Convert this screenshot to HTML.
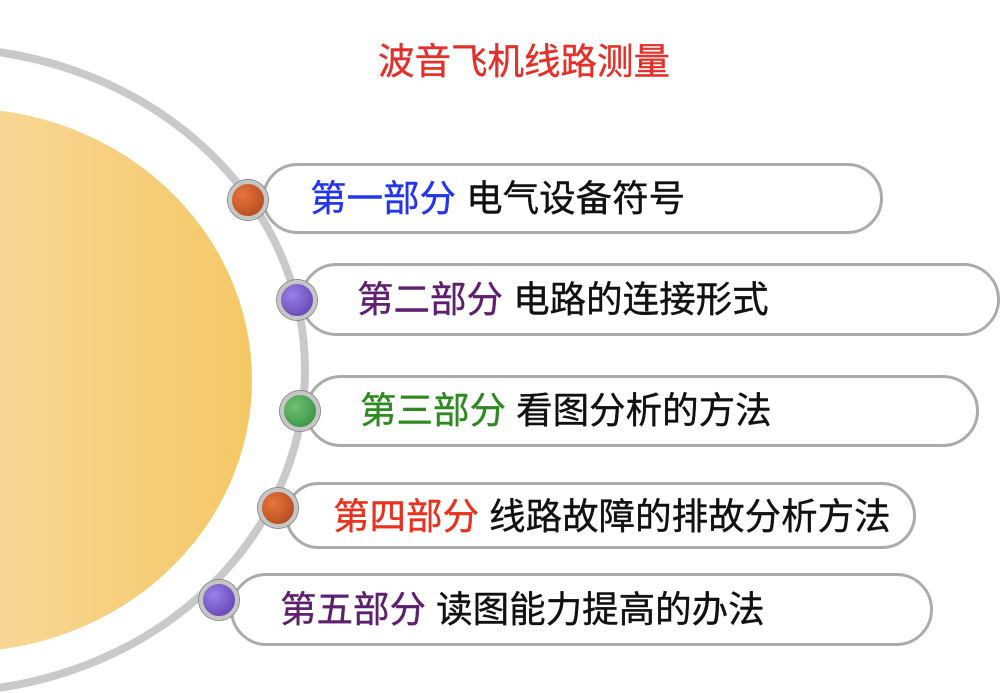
<!DOCTYPE html>
<html><head><meta charset="utf-8"><style>
body{margin:0;width:1000px;height:693px;overflow:hidden;background:#fff;font-family:"Liberation Sans","Noto Sans CJK SC",sans-serif;}
.p{position:absolute;border:3px solid #ababab;border-radius:38px;background:#fff;box-sizing:border-box;}
.t{position:absolute;font-size:36.5px;white-space:nowrap;line-height:1;color:#111;-webkit-text-stroke:0.4px currentColor;}
.t span{-webkit-text-stroke:0.4px currentColor;}
.d{position:absolute;border-radius:50%;width:40px;height:40px;box-sizing:border-box;border:4px solid #c6c6c6;box-shadow:0 0 0 1px #888;}
</style></head><body>
<svg width="1000" height="693" style="position:absolute;left:0;top:0">
<defs><linearGradient id="g" x1="0" x2="1"><stop offset="0" stop-color="#fce9d0"/><stop offset="1" stop-color="#f5c866"/></linearGradient></defs>
<ellipse cx="-60" cy="370" rx="365" ry="322" fill="none" stroke="#c9c9c9" stroke-width="8"/>
<ellipse cx="-40" cy="380" rx="292" ry="272" fill="url(#g)"/>
</svg>
<div class="t" style="left:378px;top:44px;color:#e3302a;font-size:36.5px">波音飞机线路测量</div>
<div class="p" style="left:262px;top:163px;width:621px;height:71px"></div>
<div class="p" style="left:300px;top:263px;width:700px;height:73px"></div>
<div class="p" style="left:305px;top:375px;width:674px;height:72px"></div>
<div class="p" style="left:285px;top:482px;width:631px;height:67px"></div>
<div class="p" style="left:230px;top:573px;width:703px;height:73px"></div>
<div class="d" style="left:228px;top:180px;background:radial-gradient(circle at 35% 35%,#e8743a,#a8441a)"></div>
<div class="d" style="left:277px;top:280px;background:radial-gradient(circle at 35% 35%,#9a80e8,#5a3aa8)"></div>
<div class="d" style="left:280px;top:391px;background:radial-gradient(circle at 35% 35%,#70c070,#2e8a3e)"></div>
<div class="d" style="left:258px;top:488px;background:radial-gradient(circle at 35% 35%,#e8743a,#a8441a)"></div>
<div class="d" style="left:199px;top:580px;background:radial-gradient(circle at 35% 35%,#9a80e8,#5a3aa8)"></div>
<div class="t" style="left:310px;top:181px"><span style="color:#2436ec">第一部分</span> 电气设备符号</div>
<div class="t" style="left:357px;top:282px"><span style="color:#5e1f6e">第二部分</span> 电路的连接形式</div>
<div class="t" style="left:360px;top:393px"><span style="color:#2e8a20">第三部分</span> 看图分析的方法</div>
<div class="t" style="left:333px;top:499px"><span style="color:#e8321e">第四部分</span> 线路故障的排故分析方法</div>
<div class="t" style="left:280px;top:592px"><span style="color:#5e1f6e">第五部分</span> 读图能力提高的办法</div>
</body></html>
